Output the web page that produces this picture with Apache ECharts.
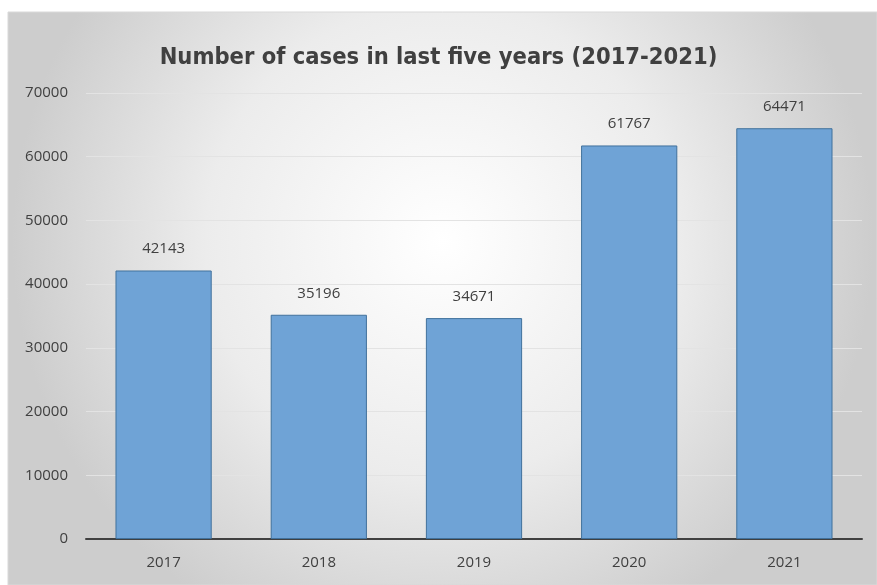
<!DOCTYPE html>
<html><head><meta charset="utf-8">
<script src="https://cdn.jsdelivr.net/npm/echarts@6/dist/echarts.min.js"></script>
<style>html,body{margin:0;padding:0;background:#fff}#c{width:877px;height:585px}</style>
</head><body><div id="c"></div>
<script>
const categories = ['2017', '2018', '2019', '2020', '2021'];
const cases = [42143, 35196, 34671, 61767, 64471];
const yTicks = [0, 10000, 20000, 30000, 40000, 50000, 60000, 70000];

const chart = echarts.init(document.getElementById('c'), null, {renderer: 'canvas'});
chart.setOption({
  backgroundColor: '#ffffff',
  animation: false,
  graphic: [{
    type: 'rect', z: -10, silent: true,
    shape: {x: 8, y: 12, width: 869, height: 573},
    style: {
      fill: new echarts.graphic.RadialGradient(0.5, 0.4, 0.75, [
        {offset: 0, color: '#ffffff'},
        {offset: 0.55, color: '#ececec'},
        {offset: 1, color: '#cdcdcd'}
      ]),
      stroke: '#d9d9d9', lineWidth: 1
    }
  }],
  title: {
    text: 'Number of cases in last five years (2017-2021)',
    left: 'center', top: 41,
    textStyle: {fontFamily: 'DejaVu Sans Condensed, sans-serif', fontSize: 23.5, fontWeight: 'bold', color: '#404040'}
  },
  grid: {left: 86, right: 15, top: 93, bottom: 46, containLabel: false},
  xAxis: {
    type: 'category', data: categories,
    axisLine: {lineStyle: {color: '#404040', width: 2}},
    axisTick: {show: false},
    axisLabel: {color: '#404040', fontSize: 15, margin: 16, fontFamily: 'Open Sans, sans-serif'}
  },
  yAxis: {
    type: 'value', min: yTicks[0], max: yTicks[yTicks.length - 1], interval: 10000,
    axisLine: {show: false}, axisTick: {show: false},
    splitLine: {lineStyle: {color: '#e3e3e3', width: 1}},
    axisLabel: {color: '#404040', fontSize: 15, margin: 18, fontFamily: 'Open Sans, sans-serif', formatter: v => String(v)}
  },
  series: [{
    type: 'bar', data: cases, barWidth: '62%',
    itemStyle: {color: '#6fa3d6', borderColor: '#41719c', borderWidth: 1},
    label: {show: true, position: 'top', distance: 14, color: '#404040', fontSize: 15, fontFamily: 'Open Sans, sans-serif'}
  }]
});
</script></body></html>
